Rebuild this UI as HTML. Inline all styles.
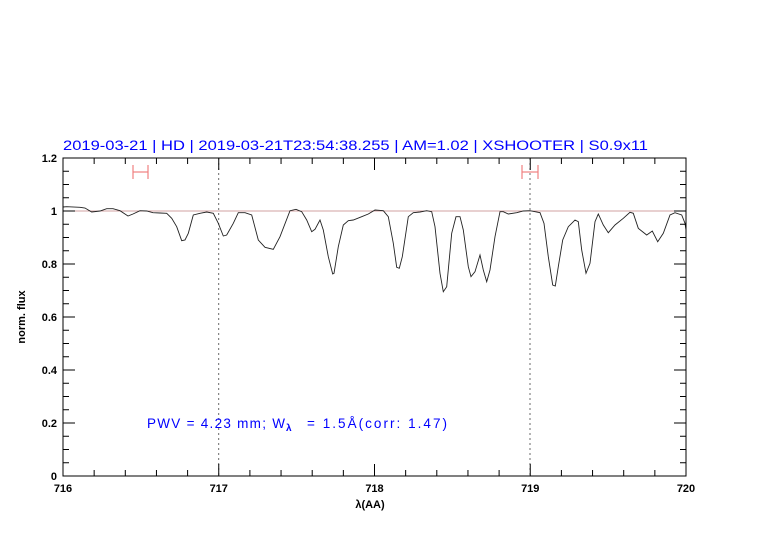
<!DOCTYPE html>
<html><head><meta charset="utf-8"><style>
html,body{margin:0;padding:0;background:#fff;width:782px;height:542px;overflow:hidden}
svg text{font-family:"Liberation Sans",sans-serif}
</style></head><body>
<svg id="s" width="782" height="542" xmlns="http://www.w3.org/2000/svg">
<rect width="782" height="542" fill="#fff"/>
<text x="63" y="150" font-size="13.5" fill="#0000ff" textLength="585" lengthAdjust="spacingAndGlyphs">2019-03-21 | HD | 2019-03-21T23:54:38.255 | AM=1.02 | XSHOOTER | S0.9x11</text>
<line x1="63" y1="211" x2="686" y2="211" stroke="#c08080" stroke-width="0.8"/>
<line x1="218.75" y1="158" x2="218.75" y2="476" stroke="#444" stroke-width="0.8" stroke-dasharray="2,3"/>
<line x1="530" y1="158" x2="530" y2="476" stroke="#444" stroke-width="0.8" stroke-dasharray="2,3"/>
<g stroke="#f08080" stroke-width="1.2">
<line x1="133" y1="172" x2="148" y2="172"/><line x1="133" y1="165" x2="133" y2="179"/><line x1="148" y1="165" x2="148" y2="179"/>
<line x1="522" y1="172" x2="538" y2="172"/><line x1="522" y1="165" x2="522" y2="179"/><line x1="538" y1="165" x2="538" y2="179"/>
</g>
<polyline fill="none" stroke="#222" stroke-width="0.9" points="63,207 66.7,206.7 80,207.3 85,208 91.7,212 100,211 106.7,208.7 113,208.7 120,210.7 128,216 133,214 140,210.7 146.7,211 153,212.7 160,213 166.7,213.3 171.7,218.3 176.7,226.7 181.7,240.7 185,240 188.3,233.3 193.3,215 200,213.3 206.7,212 213.3,213.3 218.3,223.3 223.3,236 226.7,235 233.3,223.3 238.3,212.7 245,212.7 251.7,215 258.3,240 265,247.3 273.3,249.3 280,236.7 290,210.7 296,209.3 301.7,211.7 306.7,220 311.7,231.7 315,229.3 320,220 323.3,230 328.3,256.7 332.7,274 334,273.3 338.3,246.7 343.3,225 348.3,220.7 353.3,220 361.7,216.7 368.3,214 375,210 383.3,210.7 388.3,216.7 393.3,243.3 396.7,267.3 399.3,268.3 402.3,256.7 408.3,216.7 413.3,212.7 420,212 426.7,210.7 431.7,211.7 435,226.7 440,273.3 443.3,291.7 446.7,286.7 451.7,233.3 456,216.7 460,216.7 463.3,230 468.3,266.7 471,276.7 475,271.7 480,255 483.3,270 486.7,281.7 490,270 495,236.7 500,211.7 503.3,211.7 508.3,214 516.7,212.7 523.3,211 530,210.7 540,212.7 544,223.3 548.3,256.7 552.7,285 555.3,286 558.3,266.7 562.7,240 568.3,226.7 575,220 578.3,221.7 581.7,250 586,273.3 590,263.3 595,221.7 598.3,214 603.3,225 608.3,232.7 615,225 623.3,218.3 630,212.3 633.3,213.3 638.3,228.3 646.7,235 652.3,231 657.7,241.7 663.3,233.3 670,215 675,212.7 681.7,215 685,223.3 686,230"/>
<rect x="63" y="158" width="623" height="318" fill="none" stroke="#000" stroke-width="1"/>
<g id="ticks" stroke="#000" stroke-width="1"></g>
<g id="labs" font-size="11" font-weight="bold" fill="#000"></g>
<text x="370" y="508" font-size="11" font-weight="bold" text-anchor="middle">λ(AA)</text>
<text transform="translate(25,317) rotate(-90)" font-size="11" font-weight="bold" text-anchor="middle">norm. flux</text>
<g font-size="13.5" fill="#0000ff">
<text x="147" y="428" textLength="138" lengthAdjust="spacing">PWV = 4.23 mm; W</text>
<text x="286" y="431" font-size="10" font-weight="bold">λ</text>
<text x="307" y="428" textLength="140" lengthAdjust="spacing">= 1.5Å(corr: 1.47)</text>
</g>
</svg>
<script>
var t=document.getElementById('ticks'),l=document.getElementById('labs'),h='';
for(var i=0;i<=20;i++){var x=63+i*31.15,L=(i%5==0)?12:6;
h+='<line x1="'+x+'" y1="476" x2="'+x+'" y2="'+(476-L)+'"/><line x1="'+x+'" y1="158" x2="'+x+'" y2="'+(158+L)+'"/>';}
for(var j=0;j<=24;j++){var y=476-j*13.25,L=(j%4==0)?12:6;
h+='<line x1="63" y1="'+y+'" x2="'+(63+L)+'" y2="'+y+'"/><line x1="686" y1="'+y+'" x2="'+(686-L)+'" y2="'+y+'"/>';}
t.innerHTML=h;var g='';
for(var i=0;i<=4;i++){g+='<text x="'+(63+i*155.75)+'" y="492" text-anchor="middle">'+(716+i)+'</text>';}
var yl=['0','0.2','0.4','0.6','0.8','1','1.2'];
for(var j=0;j<7;j++){g+='<text x="57" y="'+(476-j*53+4)+'" text-anchor="end">'+yl[j]+'</text>';}
l.innerHTML=g;
</script>
</body></html>
